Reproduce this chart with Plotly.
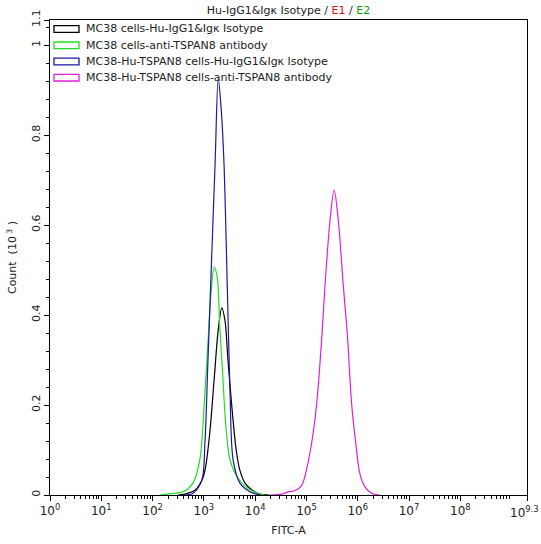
import plotly.graph_objects as go

# ---- data (log10 FITC-A intensity, count in 10^3) ----
names = [
    "MC38 cells-Hu-IgG1&Igκ Isotype",
    "MC38 cells-anti-TSPAN8 antibody",
    "MC38-Hu-TSPAN8 cells-Hu-IgG1&Igκ Isotype",
    "MC38-Hu-TSPAN8 cells-anti-TSPAN8 antibody",
]
colors = ["#000000", "#22dd22", "#1a1aa8", "#dd22dd"]

black_log = [2.50, 2.63, 2.83, 2.98, 3.04, 3.12, 3.20, 3.28, 3.35, 3.41, 3.47, 3.55, 3.63, 3.70, 3.80, 3.94, 4.09, 4.28]
black_cnt = [0.000, 0.002, 0.011, 0.038, 0.067, 0.144, 0.256, 0.367, 0.416, 0.389, 0.300, 0.190, 0.100, 0.056, 0.027, 0.011, 0.002, 0.000]

green_log = [2.14, 2.34, 2.59, 2.79, 2.92, 3.02, 3.08, 3.14, 3.20, 3.26, 3.31, 3.37, 3.43, 3.51, 3.65, 3.84, 4.04, 4.19]
green_cnt = [0.000, 0.003, 0.007, 0.027, 0.078, 0.227, 0.338, 0.449, 0.507, 0.484, 0.373, 0.262, 0.151, 0.078, 0.040, 0.016, 0.004, 0.000]

blue_log = [2.60, 2.79, 2.96, 3.02, 3.08, 3.15, 3.22, 3.28, 3.33, 3.39, 3.46, 3.51, 3.57, 3.70, 3.90, 4.09]
blue_cnt = [0.000, 0.004, 0.033, 0.115, 0.300, 0.522, 0.740, 0.925, 0.870, 0.744, 0.448, 0.226, 0.078, 0.027, 0.007, 0.000]

magenta_log = [4.29, 4.52, 4.65, 4.78, 4.91, 5.00, 5.10, 5.20, 5.30, 5.36, 5.46, 5.54, 5.62, 5.72, 5.80, 5.88, 5.97, 6.04, 6.14, 6.27, 6.43]
magenta_cnt = [0.000, 0.002, 0.007, 0.010, 0.022, 0.056, 0.115, 0.204, 0.352, 0.463, 0.611, 0.678, 0.611, 0.463, 0.352, 0.204, 0.107, 0.048, 0.018, 0.004, 0.000]

x_tick_exp = [0, 1, 2, 3, 4, 5, 6, 7, 8, 9.3]
x_tick_txt = ["0", "1", "2", "3", "4", "5", "6", "7", "8", "9.3"]
y_tick_vals = [0, 0.2, 0.4, 0.6, 0.8, 1.0]
y_tick_txt = ["0", "0.2", "0.4", "0.6", "0.8", "1"]
y_top = 1.0556  # top of axis, labelled "1.1"

FONT = "DejaVu Sans"

series = [(black_log, black_cnt), (green_log, green_cnt), (blue_log, blue_cnt), (magenta_log, magenta_cnt)]

fig = go.Figure()
for (lg, ct), nm, col in zip(series, names, colors):
    fig.add_trace(go.Scatter(
        x=[10 ** v for v in lg], y=ct, mode="lines", name=nm,
        line=dict(color=col, width=1.2, shape="spline", smoothing=0.9),
        showlegend=False,
    ))

# minor ticks for log axis
minor_vals = []
for d in range(0, 10):
    for k in range(2, 10):
        v = k * 10 ** d
        if v < 10 ** 9.3:
            minor_vals.append(v)

# the last (edge) label is drawn as an annotation so it is not hidden at the page edge
main_ticktext = [f"10<sup>{t}</sup>" for t in x_tick_txt[:-1]] + [""]

fig.update_xaxes(
    type="log", range=[0, 9.3], automargin=False,
    tickmode="array", tickvals=[10 ** e for e in x_tick_exp],
    ticktext=main_ticktext,
    ticks="outside", ticklen=5, tickcolor="black",
    minor=dict(tickmode="array", tickvals=minor_vals, ticks="outside", ticklen=3, tickcolor="black"),
    showline=True, linecolor="black", linewidth=1, mirror=True,
    showgrid=False, zeroline=False,
    tickfont=dict(family=FONT, size=12, color="#222"),
    title=dict(text="FITC-A", font=dict(family=FONT, size=11, color="#222"), standoff=8),
)
fig.update_yaxes(
    range=[0, y_top], automargin=False,
    tickmode="array", tickvals=y_tick_vals + [y_top], ticktext=y_tick_txt + ["1.1"],
    tickangle=-90,
    ticks="outside", ticklen=5, tickcolor="black",
    minor=dict(dtick=0.04, tick0=0, ticks="outside", ticklen=3, tickcolor="black"),
    showline=True, linecolor="black", linewidth=1, mirror=True,
    showgrid=False, zeroline=False,
    tickfont=dict(family=FONT, size=11, color="#222"),
    title=dict(text="Count  (10<sup> 3</sup> )", font=dict(family=FONT, size=11, color="#222"), standoff=10),
)

# legend drawn as outlined boxes + text
L, R, T, B = 50, 527, 20, 495
def px(xp): return (xp - L) / (R - L)
def py(yp): return (B - yp) / (B - T)

row_y = [29, 45.3, 61.5, 77.7]
for nm, col, yc in zip(names, colors, row_y):
    fig.add_shape(type="rect", xref="paper", yref="paper",
                  x0=px(54), x1=px(79), y0=py(yc + 3.3), y1=py(yc - 3.3),
                  line=dict(color=col, width=1.3), fillcolor="white")
    fig.add_annotation(xref="paper", yref="paper", x=px(84), y=py(yc),
                       text=nm, showarrow=False, xanchor="left", yanchor="middle",
                       font=dict(family=FONT, size=11, color="#222"))

fig.add_annotation(xref="paper", yref="paper", x=px(524), y=py(512),
                   text=f"10<sup>{x_tick_txt[-1]}</sup>", showarrow=False,
                   xanchor="center", yanchor="middle",
                   font=dict(family=FONT, size=12, color="#222"))

fig.update_layout(
    width=541, height=544,
    margin=dict(l=L, r=541 - R, t=T, b=544 - B),
    paper_bgcolor="white", plot_bgcolor="white",
    title=dict(
        text="Hu-IgG1&Igκ Isotype / <span style='color:#dd1111'>E1</span> / <span style='color:#119911'>E2</span>",
        x=288.5 / 541, xanchor="center", y=1 - 10 / 544, yanchor="middle",
        font=dict(family=FONT, size=11, color="#222"),
    ),
    showlegend=False,
)

fig.write_html("out.html")
